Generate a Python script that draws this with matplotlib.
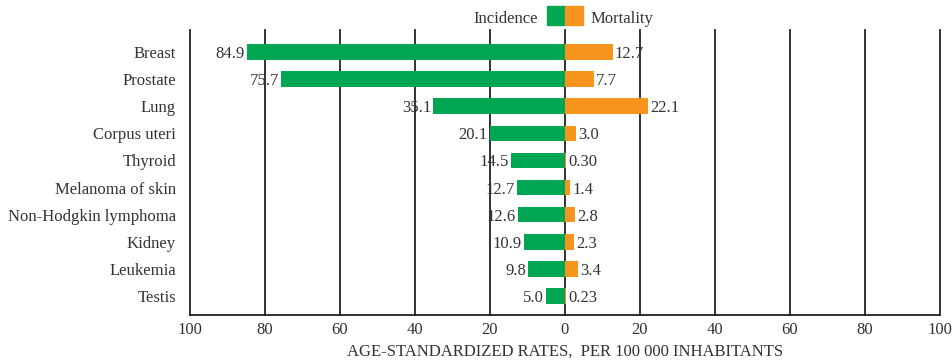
import matplotlib.pyplot as plt
from matplotlib.patches import Rectangle

# данные
sites = ['Breast', 'Prostate', 'Lung', 'Corpus uteri', 'Thyroid',
         'Melanoma of skin', 'Non-Hodgkin lymphoma', 'Kidney', 'Leukemia', 'Testis']
incidence = [84.9, 75.7, 35.1, 20.1, 14.5, 12.7, 12.6, 10.9, 9.8, 5.0]
mortality = [12.7, 7.7, 22.1, 3.0, 0.30, 1.4, 2.8, 2.3, 3.4, 0.23]
mortality_labels = ['12.7', '7.7', '22.1', '3.0', '0.30', '1.4', '2.8', '2.3', '3.4', '0.23']
ticks = [-100, -80, -60, -40, -20, 0, 20, 40, 60, 80, 100]

green = '#00a651'
orange = '#f7941d'
txt = '#333333'
fs = 12

plt.rcParams['font.family'] = ['Liberation Serif', 'DejaVu Serif']

fig = plt.figure(figsize=(9.53, 3.6), dpi=100)
ax = fig.add_axes([190 / 953, 1 - 315 / 360, 750 / 953, 285 / 360])

y = list(range(len(sites)))
ax.barh(y, [-v for v in incidence], height=0.57, color=green, zorder=3)
ax.barh(y, mortality, height=0.57, color=orange, zorder=3)

for i in y:
    ax.text(-incidence[i] - 0.6, i, '%.1f' % incidence[i], ha='right', va='center_baseline',
            fontsize=fs, color=txt, zorder=4)
    ax.text(mortality[i] + 0.6, i, mortality_labels[i], ha='left', va='center_baseline',
            fontsize=fs, color=txt, zorder=4)

for t in ticks:
    ax.axvline(t, color='#222222', lw=1.3, zorder=2, clip_on=False)

ax.set_xlim(-100, 100)
ax.set_ylim(9.7, -0.81)
ax.set_xticks(ticks)
ax.set_xticklabels([str(abs(t)) for t in ticks], fontsize=fs, color=txt)
ax.set_yticks(y)
ax.set_yticklabels(sites, fontsize=fs, color=txt)
ax.tick_params(length=0, pad=5)
ax.tick_params(axis='y', pad=10)
for s in ['top', 'right', 'left']:
    ax.spines[s].set_visible(False)
ax.spines['bottom'].set_color('#222222')
ax.spines['bottom'].set_linewidth(1.3)
ax.set_xlabel('AGE-STANDARDIZED RATES,  PER 100 000 INHABITANTS', fontsize=fs,
              color=txt, labelpad=4)

# легенда сверху
fig.patches.append(Rectangle((547 / 953, 1 - 25 / 360), 18 / 953, 19 / 360,
                             transform=fig.transFigure, color=green))
fig.patches.append(Rectangle((565 / 953, 1 - 25 / 360), 18 / 953, 19 / 360,
                             transform=fig.transFigure, color=orange))
fig.text(538 / 953, 1 - 17 / 360, 'Incidence', ha='right', va='center_baseline', fontsize=fs, color=txt)
fig.text(591 / 953, 1 - 17 / 360, 'Mortality', ha='left', va='center_baseline', fontsize=fs, color=txt)

fig.savefig('out.png', dpi=100)
